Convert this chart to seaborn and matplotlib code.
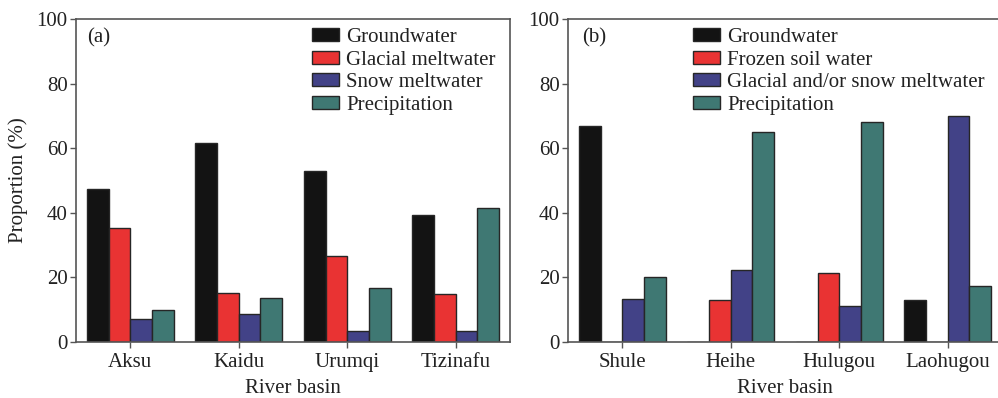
import matplotlib
matplotlib.use("Agg")
import matplotlib.pyplot as plt
import seaborn as sns
import pandas as pd

# Panel (a): Tianshan river basins
basins_a = ["Aksu", "Kaidu", "Urumqi", "Tizinafu"]
sources_a = ["Groundwater", "Glacial meltwater", "Snow meltwater", "Precipitation"]
groundwater_a = [47.4, 61.7, 52.9, 39.4]
glacial_a = [35.2, 15.2, 26.6, 14.8]
snow_a = [7.0, 8.6, 3.4, 3.4]
precip_a = [9.9, 13.7, 16.8, 41.4]

# Panel (b): Qilian river basins
basins_b = ["Shule", "Heihe", "Hulugou", "Laohugou"]
sources_b = ["Groundwater", "Frozen soil water", "Glacial and/or snow meltwater", "Precipitation"]
groundwater_b = [66.8, 0.0, 0.0, 13.0]
frozen_b = [0.0, 13.1, 21.3, 0.0]
melt_b = [13.4, 22.2, 11.0, 70.0]
precip_b = [20.1, 64.9, 68.1, 17.2]

yticks = [0, 20, 40, 60, 80, 100]
colors = ["#131313", "#e93333", "#424287", "#3f7873"]

sns.set_theme(style="ticks")
plt.rcParams["font.family"] = ["Liberation Serif", "DejaVu Serif"]
plt.rcParams["font.size"] = 15

FS = 15


def long_table(basins, sources, series):
    rows = []
    for src, vals in zip(sources, series):
        for b, v in zip(basins, vals):
            rows.append({"basin": b, "source": src, "value": v})
    return pd.DataFrame(rows)


fig = plt.figure(figsize=(9.98, 3.98), dpi=100)
ax_a = fig.add_axes([76 / 998, 1 - 342 / 398, 434 / 998, 323 / 398])
ax_b = fig.add_axes([568 / 998, 1 - 342 / 398, 434 / 998, 323 / 398])

panels = [
    (ax_a, basins_a, sources_a, [groundwater_a, glacial_a, snow_a, precip_a], "(a)", 0.544, 0.025),
    (ax_b, basins_b, sources_b, [groundwater_b, frozen_b, melt_b, precip_b], "(b)", 0.287, 0.032),
]

for ax, basins, sources, series, tag, leg_x, tag_x in panels:
    df = long_table(basins, sources, series)
    sns.barplot(data=df, x="basin", y="value", hue="source",
                order=basins, hue_order=sources, palette=colors,
                errorbar=None, width=0.8, edgecolor="#262626",
                linewidth=1.0, saturation=1.0, ax=ax)
    ax.set_ylim(0, 100)
    ax.set_xlim(-0.5, 3.5)
    ax.set_yticks(yticks)
    ax.set_yticklabels([str(t) for t in yticks])
    ax.set_xlabel("River basin", fontsize=FS, color="#222222", labelpad=5)
    ax.set_ylabel("")
    for sp in ax.spines.values():
        sp.set_visible(True)
        sp.set_color("#555555")
        sp.set_linewidth(1.2)
    ax.tick_params(axis="both", direction="out", length=4, width=1.0,
                   color="#555555", labelsize=FS, labelcolor="#222222", pad=2)
    ax.tick_params(axis="x", pad=4)
    ax.text(tag_x, 0.942, tag, transform=ax.transAxes, fontsize=FS,
            va="center", ha="left", color="#222222")
    leg = ax.legend(loc="upper left", bbox_to_anchor=(leg_x, 0.972),
                    frameon=False, fontsize=FS, handlelength=1.3,
                    handleheight=0.6, handletextpad=0.35,
                    labelspacing=0.17, borderpad=0, borderaxespad=0)
    for t in leg.get_texts():
        t.set_color("#222222")

ax_a.set_ylabel("Proportion (%)", fontsize=FS, color="#222222", labelpad=6)

fig.savefig("out.png", dpi=100)
